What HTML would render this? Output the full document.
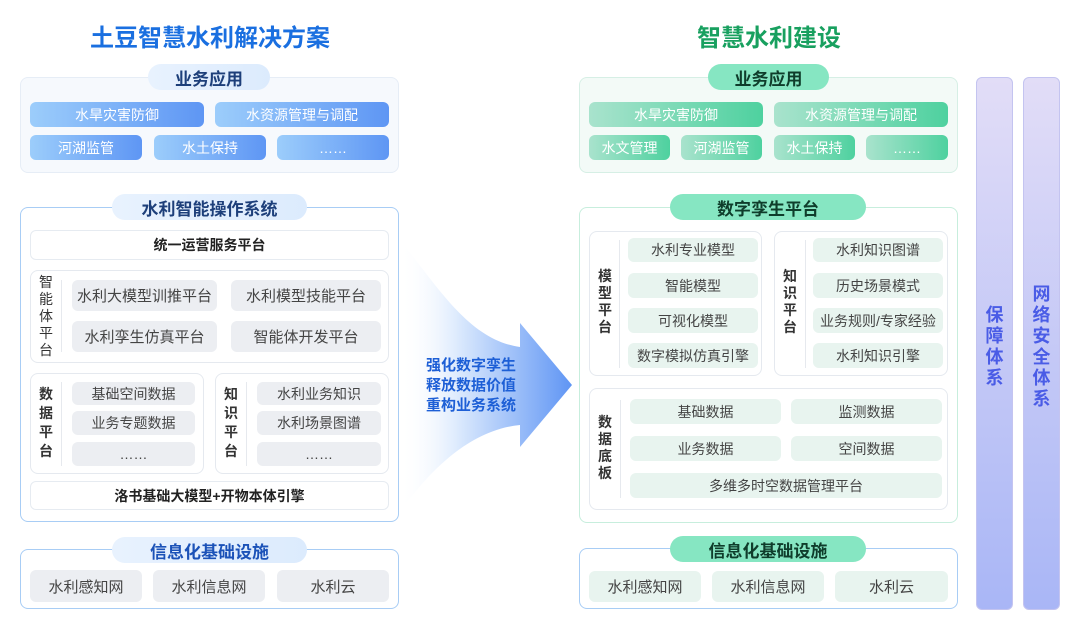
<!DOCTYPE html>
<html><head><meta charset="utf-8"><style>
*{margin:0;padding:0;box-sizing:border-box}
body{width:1080px;height:633px;background:#fff;position:relative;overflow:hidden;font-family:"Liberation Sans","Noto Sans CJK SC",sans-serif}
.a{position:absolute;display:flex;align-items:center;justify-content:center;text-align:center}
.box{position:absolute;border-radius:8px}
.pill{position:absolute;display:flex;align-items:center;justify-content:center;border-radius:14px;font-weight:bold;font-size:17px}
.bl{background:linear-gradient(90deg,#e8f2fe,#dcebfd);color:#1d3f7a}
.gr{background:#86e6c2;color:#0f3d2b}
.bi{background:linear-gradient(90deg,#9ccdfb,#5e96f4);color:#fff;border-radius:6px;font-size:14px}
.gi{background:linear-gradient(90deg,#a9e3cd,#4ed19f);color:#fff;border-radius:6px;font-size:14px}
.gy{background:#eceef2;color:#444;border-radius:6px;font-size:14px}
.lg{background:#e8f4ef;color:#444;border-radius:6px;font-size:14px}
.wb{background:#fff;border:1px solid #e6ebf1;color:#222;border-radius:6px;font-size:14px;font-weight:bold}
.panel{position:absolute;border:1px solid #e5e9ef;border-radius:8px;background:#fff}
.vl{position:absolute;font-size:14px;color:#333;line-height:17px;width:16px;text-align:center;font-weight:bold}
.vbar{position:absolute;top:77px;width:37px;height:533px;border-radius:6px;border:1px solid #c4c4f0;background:linear-gradient(180deg,#e2ddf7,#a9b6f6)}
.vt{position:absolute;left:0;width:100%;text-align:center;font-weight:bold;font-size:18px;color:#4a5ce6;line-height:21px}
</style></head><body>

<div class="a" style="left:20px;top:18px;width:380px;height:34px;font-size:24px;font-weight:bold;color:#1a6fe0">土豆智慧水利解决方案</div>
<div class="a" style="left:579px;top:18px;width:380px;height:34px;font-size:24px;font-weight:bold;color:#18a05f">智慧水利建设</div>

<!-- LEFT -->
<div class="box" style="left:20px;top:77px;width:379px;height:96px;background:#f6f9fd;border:1px solid #e6edf6"></div>
<div class="pill bl" style="left:148px;top:64px;width:122px;height:26px">业务应用</div>
<div class="a bi" style="left:30px;top:102px;width:174px;height:25px">水旱灾害防御</div>
<div class="a bi" style="left:215px;top:102px;width:174px;height:25px">水资源管理与调配</div>
<div class="a bi" style="left:30px;top:135px;width:112px;height:25px">河湖监管</div>
<div class="a bi" style="left:154px;top:135px;width:112px;height:25px">水土保持</div>
<div class="a bi" style="left:277px;top:135px;width:112px;height:25px">……</div>

<div class="box" style="left:20px;top:207px;width:379px;height:315px;border:1.5px solid #a8cdf5;background:#fff"></div>
<div class="pill bl" style="left:112px;top:194px;width:195px;height:26px">水利智能操作系统</div>
<div class="a wb" style="left:30px;top:230px;width:359px;height:30px">统一运营服务平台</div>
<div class="panel" style="left:30px;top:270px;width:359px;height:93px"></div>
<div class="vl" style="left:38px;top:274px;font-weight:normal;line-height:17px">智能体平台</div>
<div style="position:absolute;left:61px;top:280px;width:1px;height:72px;background:#e6e9ee"></div>
<div class="a gy" style="left:72px;top:280px;width:145px;height:31px;font-size:15px">水利大模型训推平台</div>
<div class="a gy" style="left:231px;top:280px;width:150px;height:31px;font-size:15px">水利模型技能平台</div>
<div class="a gy" style="left:72px;top:321px;width:145px;height:31px;font-size:15px">水利孪生仿真平台</div>
<div class="a gy" style="left:231px;top:321px;width:150px;height:31px;font-size:15px">智能体开发平台</div>

<div class="panel" style="left:30px;top:373px;width:174px;height:101px"></div>
<div class="vl" style="left:38px;top:385px;line-height:19px">数据平台</div>
<div style="position:absolute;left:61px;top:382px;width:1px;height:84px;background:#e6e9ee"></div>
<div class="a gy" style="left:72px;top:382px;width:123px;height:23px">基础空间数据</div>
<div class="a gy" style="left:72px;top:411px;width:123px;height:24px">业务专题数据</div>
<div class="a gy" style="left:72px;top:442px;width:123px;height:24px">……</div>
<div class="panel" style="left:215px;top:373px;width:174px;height:101px"></div>
<div class="vl" style="left:223px;top:385px;line-height:19px">知识平台</div>
<div style="position:absolute;left:246px;top:382px;width:1px;height:84px;background:#e6e9ee"></div>
<div class="a gy" style="left:257px;top:382px;width:124px;height:23px">水利业务知识</div>
<div class="a gy" style="left:257px;top:411px;width:124px;height:24px">水利场景图谱</div>
<div class="a gy" style="left:257px;top:442px;width:124px;height:24px">……</div>
<div class="a wb" style="left:30px;top:481px;width:359px;height:29px">洛书基础大模型+开物本体引擎</div>

<div class="box" style="left:20px;top:549px;width:379px;height:60px;border:1.5px solid #a8cdf5;background:#fff"></div>
<div class="pill bl" style="left:112px;top:537px;width:195px;height:26px;color:#1b52b8">信息化基础设施</div>
<div class="a gy" style="left:30px;top:570px;width:112px;height:32px;font-size:15px">水利感知网</div>
<div class="a gy" style="left:153px;top:570px;width:112px;height:32px;font-size:15px">水利信息网</div>
<div class="a gy" style="left:277px;top:570px;width:112px;height:32px;font-size:15px">水利云</div>

<!-- ARROW -->
<svg style="position:absolute;left:0;top:0" width="1080" height="633">
<defs><linearGradient id="ag" x1="400" y1="0" x2="572" y2="0" gradientUnits="userSpaceOnUse">
<stop offset="0" stop-color="#ffffff" stop-opacity="0"/><stop offset="0.35" stop-color="#d9e8fd"/><stop offset="1" stop-color="#5f95f4"/></linearGradient></defs>
<path d="M400 240 C440 290 470 340 520 347 L520 323 L572 385 L520 447 L520 425 C470 430 430 470 400 512 Z" fill="url(#ag)"/>
</svg>
<div style="position:absolute;left:426px;top:356px;font-size:15px;line-height:20px;color:#1d5fd6;font-weight:bold">强化数字孪生<br>释放数据价值<br>重构业务系统</div>

<!-- RIGHT -->
<div class="box" style="left:579px;top:77px;width:379px;height:96px;background:#f3faf7;border:1px solid #d6efe5"></div>
<div class="pill gr" style="left:708px;top:64px;width:121px;height:26px">业务应用</div>
<div class="a gi" style="left:589px;top:102px;width:174px;height:25px">水旱灾害防御</div>
<div class="a gi" style="left:774px;top:102px;width:174px;height:25px">水资源管理与调配</div>
<div class="a gi" style="left:589px;top:135px;width:81px;height:25px">水文管理</div>
<div class="a gi" style="left:681px;top:135px;width:81px;height:25px">河湖监管</div>
<div class="a gi" style="left:774px;top:135px;width:81px;height:25px">水土保持</div>
<div class="a gi" style="left:866px;top:135px;width:82px;height:25px">……</div>

<div class="box" style="left:579px;top:207px;width:379px;height:316px;border:1px solid #c7eedd;background:#fff"></div>
<div class="pill gr" style="left:670px;top:194px;width:196px;height:26px">数字孪生平台</div>
<div class="panel" style="left:589px;top:231px;width:173px;height:145px"></div>
<div class="vl" style="left:597px;top:268px">模型平台</div>
<div style="position:absolute;left:619px;top:240px;width:1px;height:128px;background:#e6e9ee"></div>
<div class="a lg" style="left:628px;top:238px;width:130px;height:24px">水利专业模型</div>
<div class="a lg" style="left:628px;top:273px;width:130px;height:25px">智能模型</div>
<div class="a lg" style="left:628px;top:308px;width:130px;height:25px">可视化模型</div>
<div class="a lg" style="left:628px;top:343px;width:130px;height:25px">数字模拟仿真引擎</div>
<div class="panel" style="left:774px;top:231px;width:174px;height:145px"></div>
<div class="vl" style="left:782px;top:268px">知识平台</div>
<div style="position:absolute;left:805px;top:240px;width:1px;height:128px;background:#e6e9ee"></div>
<div class="a lg" style="left:813px;top:238px;width:130px;height:24px">水利知识图谱</div>
<div class="a lg" style="left:813px;top:273px;width:130px;height:25px">历史场景模式</div>
<div class="a lg" style="left:813px;top:308px;width:130px;height:25px">业务规则/专家经验</div>
<div class="a lg" style="left:813px;top:343px;width:130px;height:25px">水利知识引擎</div>

<div class="panel" style="left:589px;top:388px;width:359px;height:122px"></div>
<div class="vl" style="left:597px;top:414px">数据底板</div>
<div style="position:absolute;left:620px;top:400px;width:1px;height:98px;background:#e6e9ee"></div>
<div class="a lg" style="left:630px;top:399px;width:151px;height:25px">基础数据</div>
<div class="a lg" style="left:791px;top:399px;width:151px;height:25px">监测数据</div>
<div class="a lg" style="left:630px;top:436px;width:151px;height:25px">业务数据</div>
<div class="a lg" style="left:791px;top:436px;width:151px;height:25px">空间数据</div>
<div class="a lg" style="left:630px;top:473px;width:312px;height:25px">多维多时空数据管理平台</div>

<div class="box" style="left:579px;top:548px;width:379px;height:61px;border:1.5px solid #a8cdf5;background:#fff"></div>
<div class="pill gr" style="left:670px;top:536px;width:196px;height:26px">信息化基础设施</div>
<div class="a lg" style="left:589px;top:571px;width:112px;height:31px;font-size:15px">水利感知网</div>
<div class="a lg" style="left:712px;top:571px;width:112px;height:31px;font-size:15px">水利信息网</div>
<div class="a lg" style="left:835px;top:571px;width:113px;height:31px;font-size:15px">水利云</div>

<div class="vbar" style="left:976px"><div class="vt" style="top:227px">保<br>障<br>体<br>系</div></div>
<div class="vbar" style="left:1023px"><div class="vt" style="top:206px">网<br>络<br>安<br>全<br>体<br>系</div></div>
</body></html>
